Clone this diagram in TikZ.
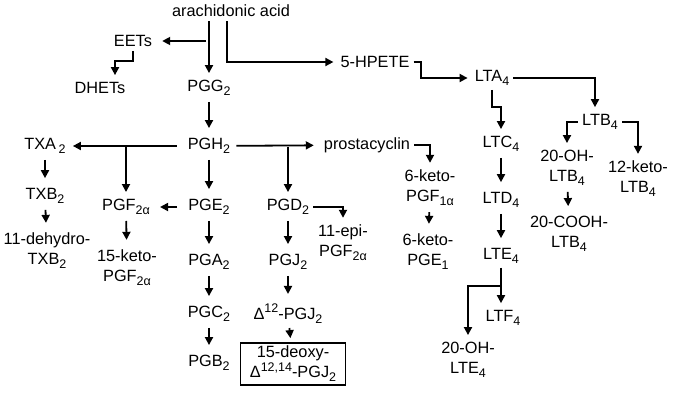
\documentclass[tikz,border=0pt]{standalone}
\usepackage{fontspec}
\setmainfont{Liberation Sans}
\usepackage{tikz}
\usetikzlibrary{arrows.meta}
\newcommand{\lsub}[1]{\raisebox{-0.25em}{\fontsize{12.5}{12.5}\selectfont #1}}
\newcommand{\lsup}[1]{\raisebox{0.42em}{\fontsize{12.5}{12.5}\selectfont #1}}

\begin{document}
\begin{tikzpicture}%
        [x={(1pt, 0pt)},
        y={(0pt, -1pt)},
        >={Triangle[length=8pt,width=8pt]},
        conn/.style={->, line width=1.8pt, shorten >=4pt, shorten <=1pt},
        next/.style={conn, shorten >=7pt, shorten <=3pt},
        cmpd/.style={font=\fontsize{16.3}{20}\selectfont, inner sep=3pt, align=center},
        boxed/.style={cmpd, draw, line width=1.8pt, minimum width=105pt, minimum height=42pt}]

    \useasboundingbox (0,0) rectangle (675,402);

    %%
    %% Drawing the compounds
    %%
    \node[cmpd] (aa) at (231,11) {arachidonic acid};
    \node[cmpd] (eets) at (133,41) {EETs};
    \node[cmpd] (dhets) at (100,88) {DHETs};
    \node[cmpd] (pgg) at (209,88) {PGG\lsub{2}};
    \node[cmpd] (hpete) at (375,62) {5-HPETE};
    \node[cmpd] (lta) at (492,78) {LTA\lsub{4}};
    \node[cmpd] (pgh) at (209,146) {PGH\lsub{2}};
    \node[cmpd] (txa) at (45,146) {TXA\,\lsub{2}};
    \node[cmpd] (prost) at (367,145) {prostacyclin};
    \node[cmpd] (ltc) at (501,144) {LTC\lsub{4}};
    \node[cmpd] (ltb) at (600,122) {LTB\lsub{4}};
    \node[cmpd] (ohltb) at (567,168) {20-OH-\\LTB\lsub{4}};
    \node[cmpd] (ketoltb) at (638,179) {12-keto-\\LTB\lsub{4}};
    \node[cmpd] (txb) at (45,196) {TXB\lsub{2}};
    \node[cmpd] (pgfa) at (126,207) {PGF\lsub{2α}};
    \node[cmpd] (pge) at (209,207) {PGE\lsub{2}};
    \node[cmpd] (pgd) at (288,207) {PGD\lsub{2}};
    \node[cmpd] (kpgf) at (430,188) {6-keto-\\PGF\lsub{1α}};
    \node[cmpd] (ltd) at (501,200) {LTD\lsub{4}};
    \node[cmpd] (cooh) at (569,234) {20-COOH-\\LTB\lsub{4}};
    \node[cmpd] (dehydro) at (47,251) {11-dehydro-\\TXB\lsub{2}};
    \node[cmpd] (ketopgf) at (127,268) {15-keto-\\PGF\lsub{2α}};
    \node[cmpd] (pga) at (209,262) {PGA\lsub{2}};
    \node[cmpd] (pgj) at (288,262) {PGJ\lsub{2}};
    \node[cmpd] (epi) at (343,243) {11-epi-\\PGF\lsub{2α}};
    \node[cmpd] (kpge) at (428,252) {6-keto-\\PGE\lsub{1}};
    \node[cmpd] (lte) at (501,256) {LTE\lsub{4}};
    \node[cmpd] (pgc) at (209,314) {PGC\lsub{2}};
    \node[cmpd] (dpgj) at (288,314) {Δ\lsup{12}-PGJ\lsub{2}};
    \node[cmpd] (ltf) at (503,318) {LTF\lsub{4}};
    \node[cmpd] (ohlte) at (468,360) {20-OH-\\LTE\lsub{4}};
    \node[cmpd] (pgb) at (209,363) {PGB\lsub{2}};
    \node[boxed] (deoxy) at (293,364) {15-deoxy-\\Δ\lsup{12,14}-PGJ\lsub{2}};

    %%
    %% Drawing the cyclooxygenase arrows
    %%
    \draw[conn] (aa.south -| pgg.north) -- (pgg.north);
    \draw[next] (pgg.north |- eets) -- (eets);
    \draw[conn] (eets.south) -- ++(0,11) -| ([xshift=15pt]dhets.north);
    \draw[next] (pgg) -- (pgh);
    \draw[conn, shorten <=8pt] (pgh) -- (txa);
    \draw[conn] (pgfa.north |- pgh) -- (pgfa.north);
    \draw[next] (pgh) -- (prost);
    \draw[conn] (pgd.north |- pgh) -- (pgd.north);
    \draw[next] (pgh) -- (pge);
    \draw[conn, shorten <=8pt, shorten >=7pt] (pge) -- (pgfa);
    \draw[next] (pge) -- (pga);
    \draw[next] (pga) -- (pgc);
    \draw[next] (pgc) -- (pgb);
    \draw[next] (txa) -- (txb);
    \draw[next] (txb) -- (dehydro);
    \draw[next] (pgfa) -- (ketopgf);
    \draw[next] (pgd) -- (pgj);
    \draw[next] (pgj) -- (dpgj);
    \draw[conn] (dpgj) -- (deoxy);
    \draw[conn] (pgd.east) -| (epi.north);
    \draw[conn] (prost.east) -| (kpgf.north);
    \draw[next] (kpgf) -- (kpge);

    %%
    %% Drawing the lipoxygenase arrows
    %%
    \draw[conn] ([xshift=-4pt]aa.south) |- (hpete);
    \draw[conn] (hpete.east) -- ++(8,0) |- (lta);
    \draw[conn] (lta) -| ([xshift=-5pt]ltb.north);
    \draw[conn] (lta.south) -- ++(0,18) -| (ltc.north);
    \draw[next] (ltc) -- (ltd);
    \draw[next] (ltd) -- (lte);
    \draw[conn] (ltb.west) -| (ohltb.north);
    \draw[conn] (ltb.east) -| (ketoltb.north);
    \draw[next] (ohltb) -- (cooh);
    \draw[conn] (lte.south) -- (lte.south |- ltf.north);
    \draw[conn] (lte.south) -- ++(0,19) -| (ohlte.north);
\end{tikzpicture}
\end{document}
